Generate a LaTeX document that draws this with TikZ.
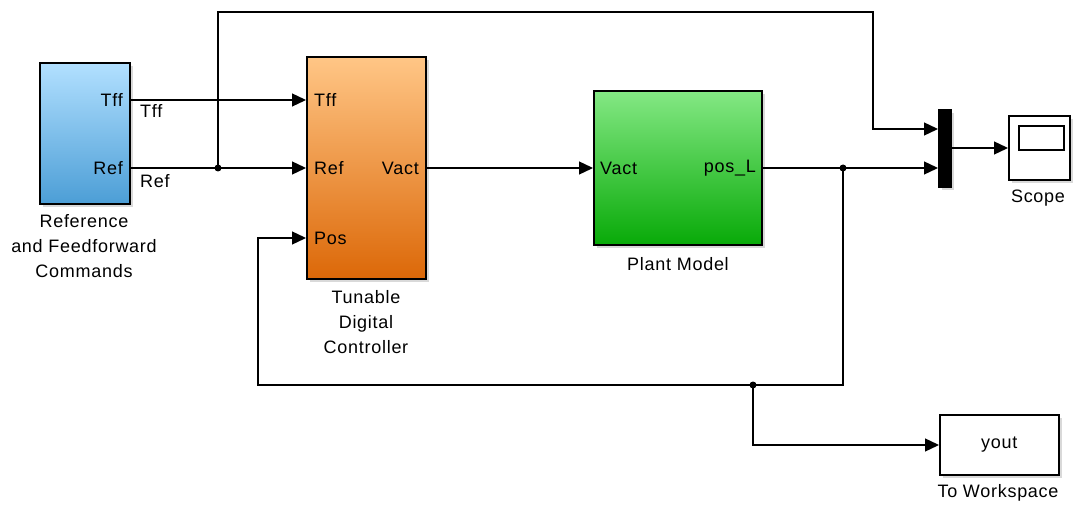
\documentclass[tikz,border=0pt]{standalone}
\usepackage{fontspec}
\setmainfont{Liberation Sans}[LetterSpace=4]
\usetikzlibrary{arrows.meta,shadows}
\definecolor{refTop}{RGB}{178,224,255}
\definecolor{refBot}{RGB}{76,158,214}
\definecolor{ctlTop}{RGB}{255,198,134}
\definecolor{ctlBot}{RGB}{220,104,8}
\definecolor{plTop}{RGB}{132,232,132}
\definecolor{plBot}{RGB}{8,170,8}
\begin{document}
\begin{tikzpicture}[x=1pt,y=-1pt,
  blk/.style={draw=black, line width=1.6pt, inner sep=0, anchor=north west,
    drop shadow={shadow xshift=3pt, shadow yshift=-3pt, opacity=0.3}},
  wire/.style={line width=1.3pt},
  arr/.style={wire, -{Triangle[length=14pt,width=13pt]}},
  txt/.style={font=\fontsize{18}{25}\selectfont, inner sep=0},
  lbl/.style={txt, align=center},
  dot/.style={circle, fill=black, inner sep=0, minimum size=7pt}]
\useasboundingbox (0,0) rectangle (1074,505);

% blocks
\node[blk, minimum width=90pt, minimum height=141pt, top color=refTop, bottom color=refBot] (ref) at (39,62) {};
\node[blk, minimum width=119pt, minimum height=222pt, top color=ctlTop, bottom color=ctlBot] (ctl) at (306,56) {};
\node[blk, minimum width=168pt, minimum height=154pt, top color=plTop, bottom color=plBot] (pl) at (593,90) {};
\node[blk, fill=black, minimum width=12pt, minimum height=77pt] (mux) at (938,109) {};
\node[blk, fill=white, minimum width=61pt, minimum height=64pt] (scope) at (1008,115) {};
\node[draw=black, line width=1.6pt, fill=white, minimum width=45pt, minimum height=24pt, inner sep=0, anchor=north west] (screen) at (1018,125) {};
\node[blk, fill=white, minimum width=119pt, minimum height=60pt] (ws) at (939,414) {};
\node[txt] (wsText) at (ws.center) {yout};

% block labels
\node[lbl] (refLbl) at (84,246) {Reference\\and Feedforward\\Commands};
\node[lbl] (ctlLbl) at (366,322) {Tunable\\Digital\\Controller};
\node[lbl] (plLbl) at (678,264) {Plant Model};
\node[lbl] (scLbl) at (1038,198) {Scope};
\node[lbl] (wsLbl) at (998,493) {To Workspace};

% port labels
\node[txt, anchor=east] (pRefTff) at (123,100) {Tff};
\node[txt, anchor=east] (pRefRef) at (123,168) {Ref};
\node[txt, anchor=west] (pCtlTff) at (314,100) {Tff};
\node[txt, anchor=west] (pCtlRef) at (314,168) {Ref};
\node[txt, anchor=west] (pCtlPos) at (314,238) {Pos};
\node[txt, anchor=east] (pCtlV) at (419,168) {Vact};
\node[txt, anchor=west] (pPlV) at (600,168) {Vact};
\node[txt, anchor=east] (pPlPos) at (756,168) {pos\_L};

% signal labels
\node[txt, anchor=west] (sTff) at (140,111) {Tff};
\node[txt, anchor=west] (sRef) at (140,181) {Ref};

% port coordinates
\coordinate (oTff) at (ref.east |- pRefTff);
\coordinate (oRef) at (ref.east |- pRefRef);
\coordinate (iTff) at (ctl.west |- pCtlTff);
\coordinate (iRef) at (ctl.west |- pCtlRef);
\coordinate (iPos) at (ctl.west |- pCtlPos);
\coordinate (oV) at (ctl.east |- pCtlV);
\coordinate (iV) at (pl.west |- pPlV);
\coordinate (oPos) at (pl.east |- pPlPos);
\coordinate (mIn1) at (938,129);
\coordinate (mIn2) at (938,168);
\coordinate (mOut) at (950,148);
\coordinate (sIn) at (scope.west |- mOut);
\coordinate (wIn) at (ws.west |- 0,445);

% junctions
\node[dot] (j1) at (218,168) {};
\node[dot] (j2) at (843,168) {};
\node[dot] (j3) at (753,385) {};

% wires
\draw[arr] (oTff) -- (iTff);
\draw[arr] (oRef) -- (iRef);
\draw[arr] (j1.center) -- (218,12) -- (873,12) -- (873,129) -- (mIn1);
\draw[arr] (oV) -- (iV);
\draw[arr] (oPos) -- (mIn2);
\draw[arr] (j2.center) -- (843,385) -- (258,385) -- (258,238) -- (iPos);
\draw[arr] (j3.center) -- (753,445) -- (wIn);
\draw[arr] (mOut) -- (sIn);
\end{tikzpicture}
\end{document}
